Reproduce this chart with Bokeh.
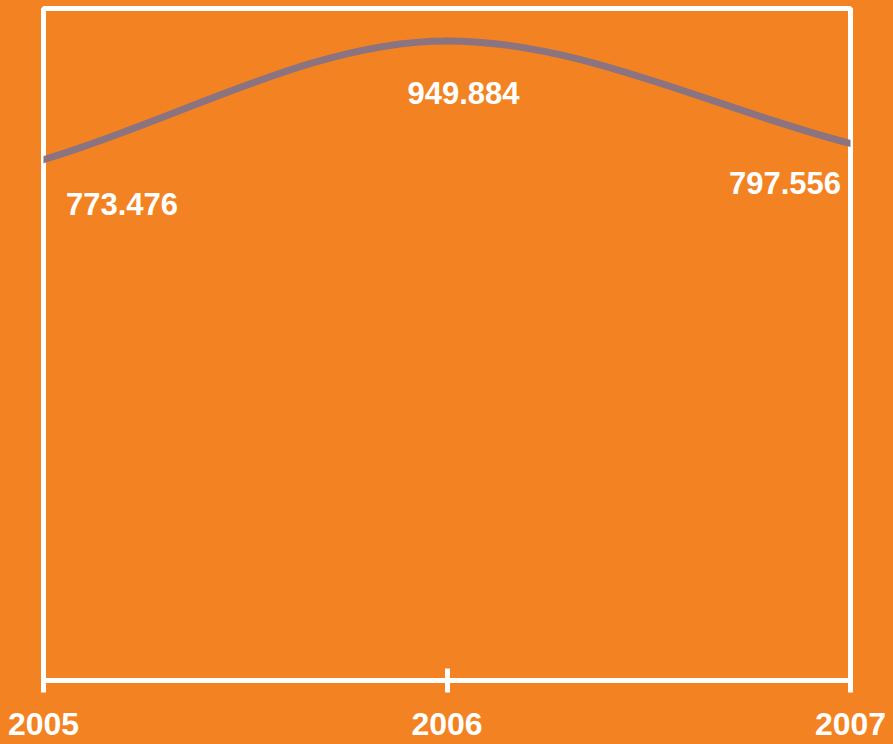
import numpy as np
from bokeh.plotting import figure
from bokeh.models import Range1d, LinearAxis, FixedTicker, Label, Grid
from bokeh.embed import file_html
from bokeh.resources import INLINE

# ---- data ----
years = [2005, 2006, 2007]
values = [773.476, 949.884, 797.556]
value_labels = ["773.476", "949.884", "797.556"]
tick_labels = ["2005", "2006", "2007"]

BG = "#F38322"
LINE = "#8B737F"
FONT = "Liberation Sans"

W, H = 893, 744
p = figure(width=W, height=H, output_backend="svg", toolbar_location=None,
           x_range=Range1d(2005, 2007), y_range=Range1d(0, 998),
           x_axis_location=None, y_axis_location=None,
           min_border_left=43, min_border_right=43, min_border_top=8, min_border_bottom=64)
p.background_fill_color = BG
p.border_fill_color = BG
p.outline_line_color = "white"
p.outline_line_width = 5
p.center = [r for r in p.center if not isinstance(r, Grid)]

xaxis = LinearAxis(ticker=FixedTicker(ticks=years),
                   major_label_overrides={y: t for y, t in zip(years, tick_labels)},
                   axis_line_color="white", axis_line_width=5,
                   major_tick_line_color="white", major_tick_line_width=5,
                   major_tick_in=12, major_tick_out=12,
                   minor_tick_line_color=None,
                   major_label_standoff=20,
                   major_label_text_line_height=0.8,
                   major_label_text_color="white",
                   major_label_text_font=FONT,
                   major_label_text_font_style="bold",
                   major_label_text_font_size="32px")
p.add_layout(xaxis, "below")

# ---- smooth curve (monotone cubic Hermite as Bezier segments) ----
xs = np.asarray(years, float)
ys = np.asarray(values, float)
d = np.diff(ys) / np.diff(xs)
m = np.empty_like(ys)
m[0], m[-1] = d[0], d[-1]
for i in range(1, len(ys) - 1):
    m[i] = 0.0 if d[i - 1] * d[i] <= 0 else 2.0 / (1.0 / d[i - 1] + 1.0 / d[i])
h = np.diff(xs)
x0, x1 = xs[:-1], xs[1:]
y0, y1 = ys[:-1], ys[1:]
cx0 = x0 + h / 3.0
cy0 = y0 + m[:-1] * h / 3.0
cx1 = x1 - h / 3.0
cy1 = y1 - m[1:] * h / 3.0
p.bezier(x0=x0, y0=y0, x1=x1, y1=y1, cx0=cx0, cy0=cy0, cx1=cx1, cy1=cy1,
         line_color=LINE, line_width=7, line_cap="round")

# ---- value labels ----
aligns = ["left", "center", "right"]
dxs = [22.5, 16.5, -9.5]
dys = [-44, -52, -40]
for xv, yv, t, a, dx, dy in zip(years, values, value_labels, aligns, dxs, dys):
    p.add_layout(Label(x=xv, y=yv, text=t, text_align=a, text_baseline="alphabetic",
                       x_offset=dx, y_offset=dy, text_color="white",
                       text_font=FONT, text_font_style="bold", text_font_size="31px"))

html = file_html(p, INLINE)
html = html.replace("<head>", "<head><style>body{background:%s;}</style>" % BG, 1)
open("out.html", "w").write(html)
